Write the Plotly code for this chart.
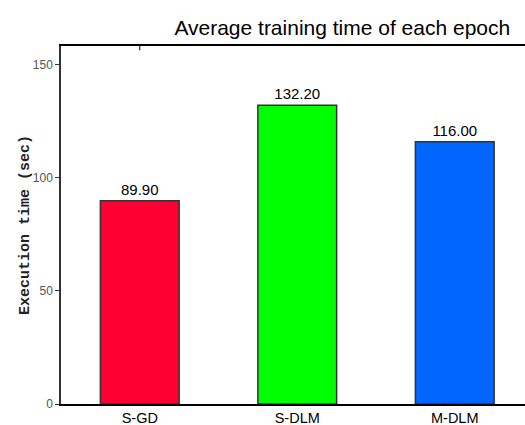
import plotly.graph_objects as go

categories = ["S-GD", "S-DLM", "M-DLM"]
values = [89.90, 132.20, 116.00]
colors = ["#FF0033", "#00FF00", "#0066FF"]
y_ticks = [0, 50, 100, 150]

fig = go.Figure()
fig.add_trace(go.Bar(
    x=categories, y=values, width=0.5,
    marker=dict(color=colors, line=dict(color="#333333", width=1.5)),
    text=[f"{v:.2f}" for v in values], textposition="outside",
    textfont=dict(family="Liberation Sans, Arial", size=15, color="black"),
    cliponaxis=False, hoverinfo="skip",
))

fig.add_shape(type="line", xref="x", yref="paper", x0=categories[0], x1=categories[0],
              y0=1, y1=0.988, line=dict(color="black", width=1))

fig.update_layout(
    width=525, height=425,
    margin=dict(l=61, r=0, t=46, b=21, autoexpand=False),
    paper_bgcolor="white", plot_bgcolor="white",
    showlegend=False,
    title=dict(text="Average training time of each epoch", x=0.652, xanchor="center",
               y=0.936, yanchor="middle",
               font=dict(family="Liberation Sans, Arial", size=21, color="black")),
    xaxis=dict(range=[-0.5, 2.446], showline=True, linecolor="black", linewidth=1.5,
               mirror=True, ticks="", showgrid=False,
               tickfont=dict(family="Liberation Sans, Arial", size=14.5, color="black")),
    yaxis=dict(range=[0, 158.4], tickvals=y_ticks, showline=True, linecolor="#333333",
               linewidth=1.5, ticks="outside", ticklen=4, tickcolor="#333333",
               showgrid=False, zeroline=False,
               tickfont=dict(family="Liberation Sans, Arial", size=12, color="#555555")),
    annotations=[dict(text="<b>Execution time (sec)</b>", xref="paper", yref="paper",
                      x=-0.0776, y=0.5, xanchor="center", yanchor="middle",
                      textangle=-90, showarrow=False,
                      font=dict(family="Liberation Mono, Courier New", size=15, color="#222222"))],
)

fig.write_html(
    "out.html",
    config={"displayModeBar": False},
    post_script="document.body.style.margin='0';document.body.style.overflow='hidden';",
)
